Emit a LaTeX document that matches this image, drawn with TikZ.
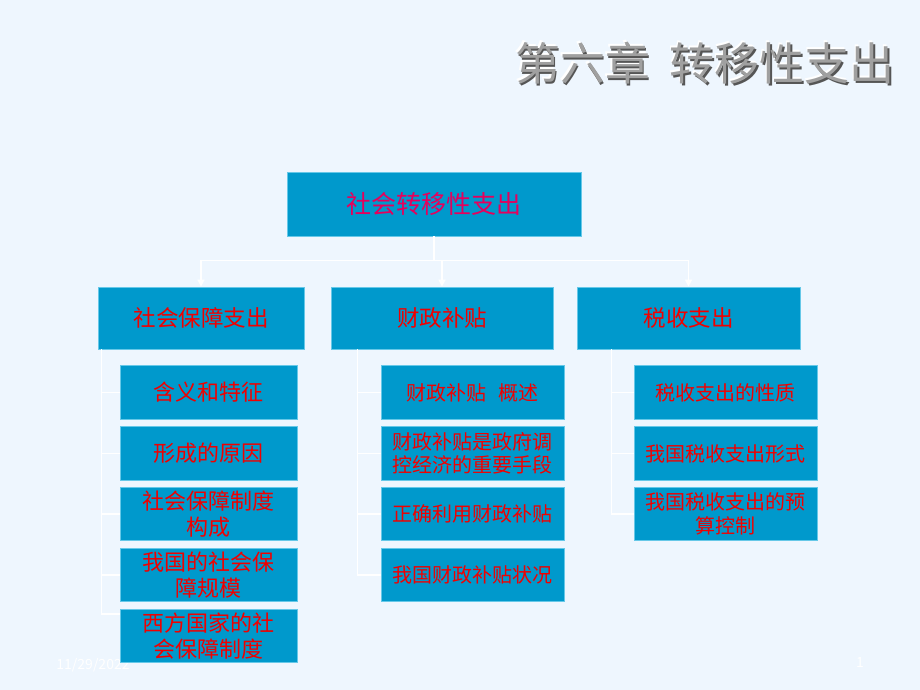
\documentclass[tikz,border=0pt]{standalone}
\usepackage{fontspec}
\newfontfamily\cjk{Noto Sans CJK SC}
\usetikzlibrary{arrows.meta}
\definecolor{bg}{HTML}{EEF6FE}
\definecolor{boxfill}{HTML}{0099CC}
\definecolor{boxline}{HTML}{66C8E8}
\definecolor{toptext}{HTML}{E6005C}
\definecolor{redtext}{HTML}{F00000}
\definecolor{titlegray}{HTML}{A0A0A0}
\definecolor{titleshadow}{HTML}{555555}
\begin{document}
\begin{tikzpicture}[x=1pt,y=-1pt,
  box/.style={draw=boxline, line width=0.8pt, fill=boxfill, inner sep=0pt, align=center, text=redtext},
  topbox/.style={box, minimum width=294pt, minimum height=64pt, text=toptext, font=\cjk\fontsize{25}{29}\selectfont},
  midbox/.style={box, minimum height=62pt, font=\cjk\fontsize{22.5}{26}\selectfont},
  leftchild/.style={box, minimum width=177pt, minimum height=53.5pt, font=\cjk\fontsize{22}{26}\selectfont},
  child/.style={box, minimum width=183pt, minimum height=53.5pt, font=\cjk\fontsize{20}{23.5}\selectfont},
  conn/.style={draw=white, line width=1.6pt},
  tick/.style={draw=white, line width=1.2pt},
  arr/.style={-{Triangle[width=7pt,length=7pt]}},
  titlefont/.style={font=\cjk\fontsize{45}{48}\selectfont, inner sep=0pt},
  foot/.style={text=white, font=\cjk\fontsize{14}{16}\selectfont, inner sep=0pt}
]
\useasboundingbox[fill=bg] (0,0) rectangle (920,690);

% title with emboss
\node[titlefont, text=white] (titlehl) at (703.5,61.5) {第六章\hspace{20pt}转移性支出};
\node[titlefont, text=titleshadow] (titlesh) at (706.8,64.8) {第六章\hspace{20pt}转移性支出};
\node[titlefont, text=titlegray] (title) at (705,63) {第六章\hspace{20pt}转移性支出};

% footer (drawn before boxes, partly hidden)
\node[foot] (date) at (93,665) {11/29/2022};
\node[foot] (page) at (860,663) {1};

% top box
\node[topbox] (top) at (434,204) {社会转移性支出};

% level 2
\node[midbox, minimum width=206pt] (sa) at (201,318) {社会保障支出};
\node[midbox, minimum width=222pt] (sb) at (442,318) {财政补贴};
\node[midbox, minimum width=223pt] (sc) at (688.5,318) {税收支出};

% connectors level 1 -> 2
\draw[conn] (top.south) -- ++(0,24) coordinate (hub);
\draw[conn,arr] (hub) -| (sa.north);
\draw[conn,arr] (hub) -| (sb.north);
\draw[conn,arr] (hub) -| (sc.north);

% left children
\node[leftchild] (a1) at (208.5,392.5) {含义和特征};
\node[leftchild] (a2) at (208.5,453.5) {形成的原因};
\node[leftchild] (a3) at (208.5,514) {社会保障制度\\构成};
\node[leftchild] (a4) at (208.5,575) {我国的社会保\\障规模};
\node[leftchild] (a5) at (208.5,636) {西方国家的社\\会保障制度};

% middle children
\node[child] (b1) at (472.5,392.5) {财政补贴\hspace{0.6em}概述};
\node[child] (b2) at (472.5,453.5) {财政补贴是政府调\\控经济的重要手段};
\node[child] (b3) at (472.5,514) {正确利用财政补贴};
\node[child] (b4) at (472.5,575) {我国财政补贴状况};

% right children
\node[child] (c1) at (725.5,392.5) {税收支出的性质};
\node[child] (c2) at (725.5,453.5) {我国税收支出形式};
\node[child] (c3) at (725.5,514) {我国税收支出的预\\算控制};

% tree connectors
\draw[tick] ([xshift=3.5pt]sa.south west) |- (a1.west);
\draw[tick] ([xshift=3.5pt]sa.south west) |- (a2.west);
\draw[tick] ([xshift=3.5pt]sa.south west) |- (a3.west);
\draw[tick] ([xshift=3.5pt]sa.south west) |- (a4.west);
\draw[tick] ([xshift=3.5pt]sa.south west) |- ([yshift=22pt]a5.west);

\draw[tick] ([xshift=27pt]sb.south west) |- (b1.west);
\draw[tick] ([xshift=27pt]sb.south west) |- (b2.west);
\draw[tick] ([xshift=27pt]sb.south west) |- (b3.west);
\draw[tick] ([xshift=27pt]sb.south west) |- (b4.west);

\draw[tick] ([xshift=35pt]sc.south west) |- (c1.west);
\draw[tick] ([xshift=35pt]sc.south west) |- (c2.west);
\draw[tick] ([xshift=35pt]sc.south west) |- (c3.west);
\end{tikzpicture}
\end{document}
